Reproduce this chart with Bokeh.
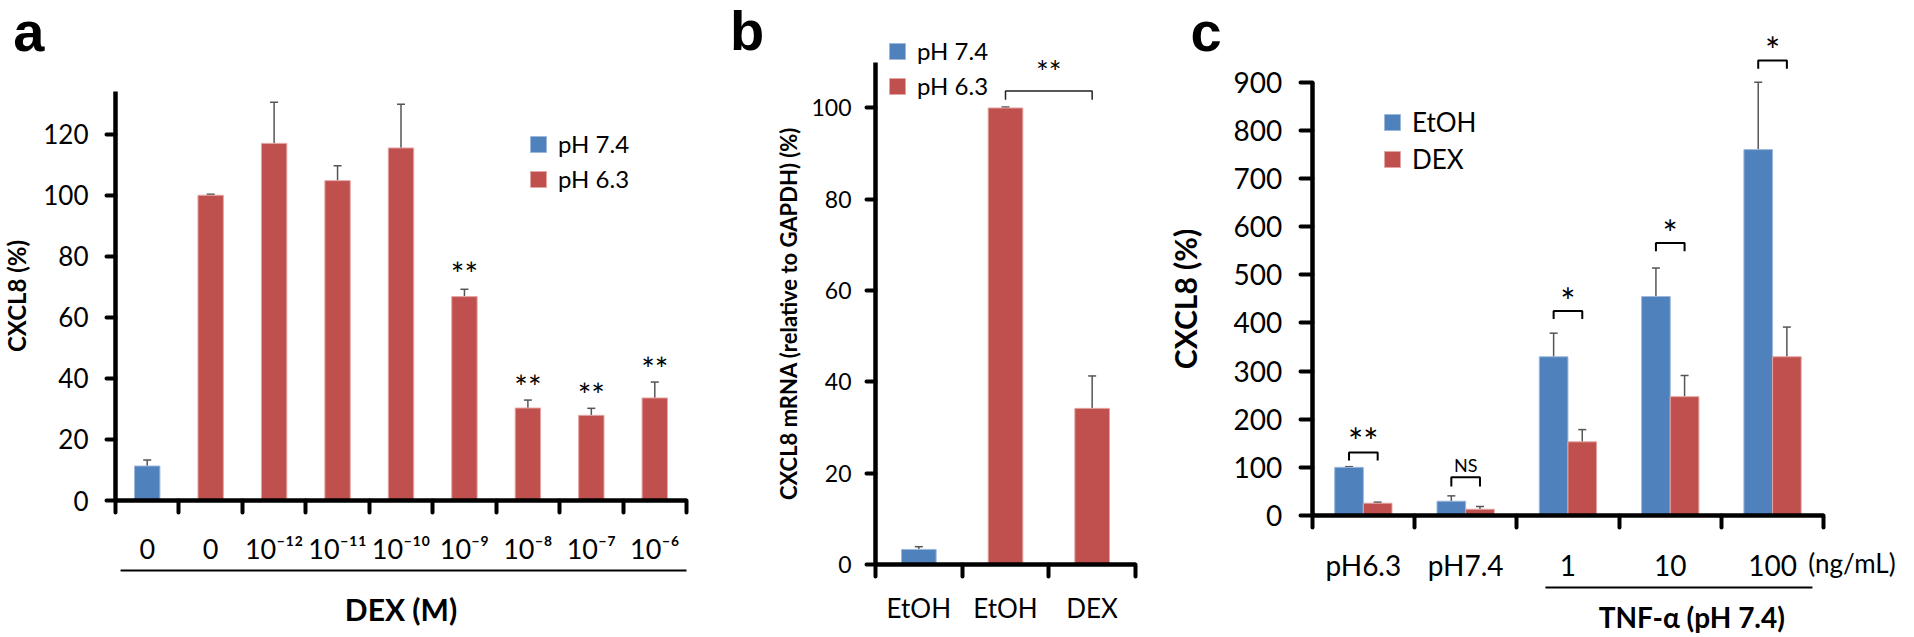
from bokeh.plotting import figure
from bokeh.layouts import row
from bokeh.models import (ColumnDataSource, FixedTicker, Whisker, TeeHead, Legend,
                          LegendItem, Label, Arrow, Range1d)
from bokeh.core.properties import value
from bokeh.embed import file_html
from bokeh.resources import INLINE

BLUE, BLUE_EDGE = "#4F81BD", "#9DB8DA"
RED, RED_EDGE = "#C0504D", "#E3A6A4"
ERR = "#555555"
FONT = "Lato"
LETTER_FONT = "Liberation Sans"

# ---------------- panel a data ----------------
a_tick_labels = ["0", "0", "10⁻¹²", "10⁻¹¹", "10⁻¹⁰", "10⁻⁹", "10⁻⁸", "10⁻⁷", "10⁻⁶"]
a_ph74_idx = [0]
a_ph74 = [11.3]
a_ph74_sd = [2.0]
a_ph63_idx = [1, 2, 3, 4, 5, 6, 7, 8]
a_ph63 = [100.0, 117.0, 104.8, 115.5, 66.8, 30.3, 27.9, 33.6]
a_ph63_sd = [0.3, 13.5, 4.9, 14.3, 2.4, 2.6, 2.3, 5.2]
a_sig_idx = [5, 6, 7, 8]
a_sig_text = ["**", "**", "**", "**"]
a_sig_y = [74.5, 37.5, 34.7, 43.4]

# ---------------- panel b data ----------------
b_tick_labels = ["EtOH", "EtOH", "DEX"]
b_ph74_idx = [0]
b_ph74 = [3.3]
b_ph74_sd = [0.6]
b_ph63_idx = [1, 2]
b_ph63 = [100.0, 34.2]
b_ph63_sd = [0.2, 7.1]
b_sig_pair = [1, 2]
b_sig_top = 103.7
b_sig_leg = 101.8
b_sig_text = "**"
b_sig_y = 108.1

# ---------------- panel c data ----------------
c_tick_labels = ["pH6.3", "pH7.4", "1", "10", "100"]
c_etoh = [100.0, 29.7, 329.7, 454.8, 760.0]
c_etoh_sd = [1.5, 11.1, 49.0, 59.2, 140.0]
c_dex = [25.5, 13.0, 153.0, 246.8, 329.7]
c_dex_sd = [2.2, 5.7, 25.4, 44.0, 61.7]
c_sig_text = ["**", "NS", "*", "*", "*"]
c_sig_top = [131.0, 79.5, 425.0, 566.0, 945.0]
c_sig_leg = [114.0, 60.0, 408.0, 549.0, 928.0]
c_sig_y = [155.0, 104.0, 446.0, 587.0, 966.0]

H = 637


def make_fig(width, x0px, xper, y0px, yper):
    # the plot frame covers the whole canvas; axes are pinned at data 0
    xr = (-x0px / xper, (width - x0px) / xper)
    yr = (-(H - y0px) / yper, y0px / yper)
    p = figure(width=width, height=H, x_range=Range1d(*xr), y_range=Range1d(*yr),
               output_backend="svg", toolbar_location=None,
               min_border_left=0, min_border_right=0, min_border_top=0, min_border_bottom=0)
    p.grid.visible = False
    p.outline_line_color = None
    p.background_fill_color = "white"
    p.border_fill_color = "white"
    return p


def style_axes(p, n, labels, yticks, ybounds, xfs, yfs, ytick_out, xstand, ystand,
               ylabel, ylabel_fs, ylabel_stand):
    xa = p.xaxis[0]
    xa.fixed_location = 0
    xa.bounds = (0, n)
    xa.ticker = FixedTicker(ticks=[i + 0.5 for i in range(n)], minor_ticks=list(range(n + 1)))
    xa.major_label_overrides = {i + 0.5: lab for i, lab in enumerate(labels)}
    xa.major_tick_line_color = None
    xa.major_tick_out = 0
    xa.major_tick_in = 0
    xa.minor_tick_out = 12
    xa.minor_tick_in = 0
    xa.minor_tick_line_width = 4
    xa.minor_tick_line_color = "black"
    xa.minor_tick_line_cap = "round"
    xa.axis_line_width = 4.5
    xa.axis_line_color = "black"
    xa.major_label_standoff = xstand
    xa.major_label_text_font = FONT
    xa.major_label_text_font_size = xfs
    xa.major_label_text_color = "black"

    ya = p.yaxis[0]
    ya.fixed_location = 0
    ya.ticker = FixedTicker(ticks=yticks, minor_ticks=[])
    ya.bounds = ybounds
    ya.major_tick_out = ytick_out
    ya.major_tick_in = 0
    ya.major_tick_line_width = 4
    ya.major_tick_line_color = "black"
    ya.major_tick_line_cap = "round"
    ya.minor_tick_line_color = None
    ya.axis_line_width = 4.5
    ya.axis_line_color = "black"
    ya.major_label_standoff = ystand
    ya.major_label_text_font = FONT
    ya.major_label_text_font_size = yfs
    ya.major_label_text_color = "black"
    ya.axis_label = ylabel
    ya.axis_label_text_font = FONT
    ya.axis_label_text_font_style = "bold"
    ya.axis_label_text_font_size = ylabel_fs
    ya.axis_label_text_color = "black"
    ya.axis_label_standoff = ylabel_stand


def bars(p, xs, vals, sds, width, color, edge):
    src = ColumnDataSource(dict(x=xs, top=vals, upper=[v + s for v, s in zip(vals, sds)]))
    r = p.vbar(x="x", top="top", width=width, bottom=0, source=src,
               fill_color=color, line_color=edge, line_width=1)
    w = Whisker(base="x", lower="top", upper="upper", source=src, dimension="height",
                line_color=ERR, line_width=1.5,
                upper_head=TeeHead(size=8, line_color=ERR, line_width=1.5), lower_head=None)
    p.add_layout(w)
    return r


def legend(p, items, loc, fs, spacing):
    lg = Legend(items=[LegendItem(label=l, renderers=[r]) for l, r in items],
                location=loc, padding=0, margin=0, spacing=spacing,
                glyph_width=20, glyph_height=20, label_standoff=10,
                label_text_font=FONT, label_text_font_size=fs, label_text_color="black",
                border_line_color=None, background_fill_alpha=0)
    p.add_layout(lg)


def letter(p, txt, x, y):
    p.add_layout(Label(x=x, y=y, text=txt, text_font=LETTER_FONT, text_font_style="bold",
                       text_font_size="56px", text_color="black", text_align="left",
                       text_baseline="alphabetic"))


# ================= panel a =================
pa = make_fig(706, 115, 571 / 9, 500, 409 / 134)
style_axes(pa, 9, a_tick_labels, [0, 20, 40, 60, 80, 100, 120], (0, 134),
           "27px", "26px", 9, 19, 18, "CXCL8 (%)", "24px", 9)
pa.xaxis[0].axis_label = "DEX (M)"
pa.xaxis[0].axis_label_text_font = FONT
pa.xaxis[0].axis_label_text_font_style = "bold"
pa.xaxis[0].axis_label_text_font_size = "30px"
pa.xaxis[0].axis_label_text_color = "black"
pa.xaxis[0].axis_label_standoff = 23
ra1 = bars(pa, [i + 0.5 for i in a_ph74_idx], a_ph74, a_ph74_sd, 0.4, BLUE, BLUE_EDGE)
ra2 = bars(pa, [i + 0.5 for i in a_ph63_idx], a_ph63, a_ph63_sd, 0.4, RED, RED_EDGE)
pa.text(x=[i + 0.5 for i in a_sig_idx], y=a_sig_y, text=a_sig_text,
        text_font=value(FONT), text_font_size="32px", text_align="center",
        text_baseline="middle", text_color="black")
legend(pa, [("pH 7.4", ra1), ("pH 6.3", ra2)], (528, 444), "24px", 6)
pa.add_layout(Arrow(end=None, x_start=0.08, y_start=-22.9, x_end=9.0, y_end=-22.9,
                    line_color="black", line_width=2))
letter(pa, "a", -1.61, 153.7)

# ================= panel b =================
pb = make_fig(454, 169, 260 / 3, 564, 525 / 115)
style_axes(pb, 3, b_tick_labels, [0, 20, 40, 60, 80, 100], (0, 110),
           "26px", "23px", 9, 15, 15, "CXCL8 mRNA (relative to GAPDH) (%)", "22px", 6)
rb1 = bars(pb, [i + 0.5 for i in b_ph74_idx], b_ph74, b_ph74_sd, 0.4, BLUE, BLUE_EDGE)
rb2 = bars(pb, [i + 0.5 for i in b_ph63_idx], b_ph63, b_ph63_sd, 0.4, RED, RED_EDGE)
bx0, bx1 = b_sig_pair[0] + 0.5, b_sig_pair[1] + 0.5
pb.line(x=[bx0, bx0, bx1, bx1], y=[b_sig_leg, b_sig_top, b_sig_top, b_sig_leg],
        line_color="#222222", line_width=1.5)
pb.text(x=[(bx0 + bx1) / 2], y=[b_sig_y], text=[b_sig_text], text_font=value(FONT),
        text_font_size="30px", text_align="center", text_baseline="middle", text_color="black")
legend(pb, [("pH 7.4", rb1), ("pH 6.3", rb2)], (181, 537), "24px", 6)
letter(pb, "b", -1.68, 117.0)

# ================= panel c =================
pc = make_fig(754, 151.7, 511.5 / 5, 515, 433.3 / 900)
style_axes(pc, 5, c_tick_labels, list(range(0, 1000, 100)), (0, 900),
           "28px", "28px", 12, 20, 18, "CXCL8 (%)", "30px", 28)
n_c = len(c_tick_labels)
rc1 = bars(pc, [i + 0.5 - 0.14 for i in range(n_c)], c_etoh, c_etoh_sd, 0.28, BLUE, BLUE_EDGE)
rc2 = bars(pc, [i + 0.5 + 0.14 for i in range(n_c)], c_dex, c_dex_sd, 0.28, RED, RED_EDGE)
pc.multi_line(xs=[[i + 0.36, i + 0.36, i + 0.64, i + 0.64] for i in range(n_c)],
              ys=[[lg, tp, tp, lg] for tp, lg in zip(c_sig_top, c_sig_leg)],
              line_color="black", line_width=2)
star_i = [i for i in range(n_c) if c_sig_text[i] != "NS"]
ns_i = [i for i in range(n_c) if c_sig_text[i] == "NS"]
pc.text(x=[i + 0.5 for i in star_i], y=[c_sig_y[i] for i in star_i],
        text=[c_sig_text[i] for i in star_i],
        text_font=value(FONT), text_font_size="36px", text_align="center",
        text_baseline="middle", text_color="black")
pc.text(x=[i + 0.5 for i in ns_i], y=[c_sig_y[i] for i in ns_i],
        text=[c_sig_text[i] for i in ns_i], text_font=value(FONT), text_font_size="18px",
        text_align="center", text_baseline="middle", text_color="black")
legend(pc, [("EtOH", rc1), ("DEX", rc2)], (222, 462), "26px", 5)
pc.add_layout(Arrow(end=None, x_start=2.28, y_start=-149.4, x_end=4.89, y_end=-149.4,
                    line_color="black", line_width=2))
pc.add_layout(Label(x=3.71, y=-211.6, text="TNF-α (pH 7.4)", text_font=FONT,
                    text_font_style="bold", text_font_size="28px", text_color="black",
                    text_align="center", text_baseline="middle"))
pc.add_layout(Label(x=4.85, y=-99.6, text="(ng/mL)", text_font=FONT,
                    text_font_size="26px", text_color="black",
                    text_align="left", text_baseline="middle"))
letter(pc, "c", -1.19, 1005.4)

layout = row(pa, pb, pc)
open("out.html", "w").write(file_html(layout, INLINE))
